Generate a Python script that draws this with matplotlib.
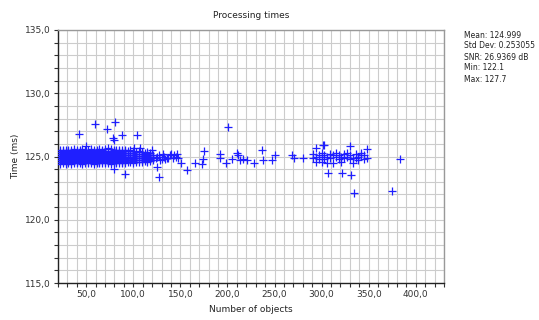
import matplotlib
matplotlib.use("Agg")
import matplotlib.pyplot as plt
from matplotlib.ticker import MultipleLocator, FuncFormatter

# dense band of measurements (number of objects -> times, per column)
blob_cols = [22, 25, 28, 31, 34, 37, 40, 43, 46, 49, 52, 55, 58, 61, 64, 67, 70,
             73, 76, 79, 82, 85, 88, 91, 94, 97, 100, 103, 106, 109, 112, 115, 118, 121]
blob_ys = [
    [124.4, 124.6, 124.75, 124.9, 125.05, 125.2, 125.35, 125.5],
    [124.5, 124.65, 124.8, 124.95, 125.1, 125.25, 125.4, 125.55],
    [124.4, 124.6, 124.75, 124.9, 125.05, 125.2, 125.35, 125.5],
    [124.5, 124.65, 124.8, 124.95, 125.1, 125.25, 125.4, 125.55],
    [124.4, 124.6, 124.75, 124.9, 125.05, 125.2, 125.35, 125.5],
    [124.5, 124.65, 124.8, 124.95, 125.1, 125.25, 125.4, 125.6],
    [124.45, 124.6, 124.75, 124.9, 125.05, 125.2, 125.35, 125.5],
    [124.5, 124.65, 124.8, 124.95, 125.1, 125.25, 125.4, 125.55],
    [124.4, 124.6, 124.75, 124.9, 125.05, 125.2, 125.35, 125.6],
    [124.5, 124.65, 124.8, 124.95, 125.1, 125.25, 125.4, 125.55],
    [124.45, 124.6, 124.75, 124.9, 125.05, 125.2, 125.35, 125.5],
    [124.5, 124.65, 124.8, 124.95, 125.1, 125.25, 125.4, 125.6],
    [124.4, 124.6, 124.75, 124.9, 125.05, 125.2, 125.35, 125.5],
    [124.5, 124.65, 124.8, 124.95, 125.1, 125.25, 125.4, 125.55],
    [124.45, 124.6, 124.75, 124.9, 125.05, 125.2, 125.35, 125.6],
    [124.5, 124.65, 124.8, 124.95, 125.1, 125.25, 125.4, 125.55],
    [124.45, 124.6, 124.75, 124.9, 125.05, 125.2, 125.35, 125.6],
    [124.5, 124.65, 124.8, 124.95, 125.1, 125.25, 125.45, 125.7],
    [124.4, 124.6, 124.75, 124.9, 125.05, 125.2, 125.35, 125.6],
    [124.5, 124.65, 124.8, 124.95, 125.1, 125.25, 125.4, 125.55],
    [124.45, 124.6, 124.75, 124.9, 125.05, 125.2, 125.35, 125.5],
    [124.5, 124.65, 124.8, 124.95, 125.1, 125.25, 125.4, 125.55],
    [124.5, 124.6, 124.75, 124.9, 125.05, 125.2, 125.35, 125.5],
    [124.5, 124.65, 124.8, 124.95, 125.1, 125.25, 125.4, 125.5],
    [124.55, 124.7, 124.85, 125.0, 125.15, 125.3, 125.45],
    [124.55, 124.7, 124.85, 125.0, 125.15, 125.3, 125.5],
    [124.5, 124.65, 124.8, 124.95, 125.1, 125.25, 125.4],
    [124.6, 124.75, 124.9, 125.05, 125.2, 125.35],
    [124.6, 124.75, 124.9, 125.05, 125.2, 125.4],
    [124.6, 124.75, 124.9, 125.05, 125.2, 125.35],
    [124.65, 124.8, 124.95, 125.1, 125.25],
    [124.6, 124.75, 124.9, 125.05, 125.2, 125.35],
    [124.65, 124.8, 124.95, 125.1, 125.25],
    [124.7, 124.85, 125.0, 125.15],
]

# thinner tail and scattered points
sparse_x = [124, 127, 130, 133, 136, 139, 142, 145, 128, 134, 140, 146.6, 147.7, 151,
            125, 131, 137, 143,
            59.4, 80.6, 72, 42, 88, 104, 78.5, 79.6, 50, 101, 107, 120,
            79.6, 91, 127.5, 125, 157, 166, 173, 175, 174, 192, 192, 198, 201,
            205, 210.5, 211.5, 213.6, 217, 221, 228.5, 237, 238, 247.7, 250,
            269, 271, 280.6, 302, 307, 322, 331.6, 334, 375, 383]
sparse_y = [124.9, 125.1, 124.8, 125.0, 124.9, 125.1, 124.9, 125.0, 124.7, 124.8, 125.2, 125.2, 124.9, 124.5,
            125.0, 125.2, 124.9, 125.1,
            127.6, 127.7, 127.2, 126.8, 126.7, 126.7, 126.5, 126.3, 125.8, 125.7, 125.7, 125.5,
            124.0, 123.6, 123.4, 124.2, 123.9, 124.5, 124.4, 125.4, 124.8, 125.2, 124.9, 124.5, 127.3,
            124.8, 125.3, 125.1, 124.7, 124.8, 124.7, 124.5, 125.5, 124.7, 124.7, 125.1,
            125.1, 124.9, 124.9, 125.9, 123.7, 123.7, 123.5, 122.1, 122.3, 124.8]

# second cluster around 290-350 objects
cluster_cols = [291, 294, 297, 300, 303, 306, 309, 312, 315, 318, 321, 324, 327,
                330, 333, 336, 339, 342, 345, 348]
cluster_ys = [
    [124.9, 125.2], [125.7, 125.0, 124.6], [125.1, 124.8], [125.0, 125.3, 124.6],
    [125.9, 125.1, 124.8], [125.0, 124.5], [125.2, 124.9], [125.1, 124.5],
    [125.0, 125.3], [124.8, 125.1], [125.0, 124.6], [125.2, 124.9],
    [125.0, 125.3], [125.8, 124.8, 125.1], [124.9, 124.5], [125.2, 124.9],
    [125.0, 124.7], [125.1, 125.3], [124.8, 125.1], [125.6, 124.9],
]

stats = ["Mean: 124.999", "Std Dev: 0.253055", "SNR: 26.9369 dB", "Min: 122.1", "Max: 127.7"]

xs = []
ys = []
for c, vals in zip(blob_cols, blob_ys):
    for v in vals:
        xs.append(c)
        ys.append(v)
for c, vals in zip(cluster_cols, cluster_ys):
    for v in vals:
        xs.append(c)
        ys.append(v)
xs += sparse_x
ys += sparse_y

plt.rcParams['font.family'] = 'DejaVu Sans'
fig = plt.figure(figsize=(5.39, 3.2), dpi=100)
ax = fig.add_axes([58 / 539, 1 - 283 / 320, 386 / 539, 253 / 320])

ax.plot(xs, ys, '+', color='#1f1fff', markersize=5.5, markeredgewidth=0.9, zorder=3)

ax.set_xlim(20, 430)
ax.set_ylim(115, 135)
ax.xaxis.set_major_locator(MultipleLocator(50))
ax.xaxis.set_minor_locator(MultipleLocator(10))
ax.yaxis.set_major_locator(MultipleLocator(5))
ax.yaxis.set_minor_locator(MultipleLocator(1))
fmt = FuncFormatter(lambda v, p: ("%.1f" % v).replace('.', ','))
ax.xaxis.set_major_formatter(fmt)
ax.yaxis.set_major_formatter(fmt)
ax.grid(which='both', color='#cccccc', linewidth=0.8, zorder=0)
ax.set_axisbelow(True)
ax.tick_params(which='both', direction='out', length=3, width=0.8, labelsize=6.5,
               colors='#333333', pad=2)

for s in ['left', 'bottom']:
    ax.spines[s].set_color('#222222')
    ax.spines[s].set_linewidth(1.0)
for s in ['top', 'right']:
    ax.spines[s].set_color('#999999')
    ax.spines[s].set_linewidth(1.0)

ax.set_title("Processing times", fontsize=6.5, color='#222222', pad=9)
ax.set_xlabel("Number of objects", fontsize=6.5, color='#222222', labelpad=4)
ax.set_ylabel("Time (ms)", fontsize=6.5, color='#222222', labelpad=4)

for i, line in enumerate(stats):
    fig.text(464 / 539, 1 - (35 + i * 11) / 320, line, fontsize=5.5,
             color='#222222', va='center', ha='left')

fig.savefig("out.png", dpi=100)
